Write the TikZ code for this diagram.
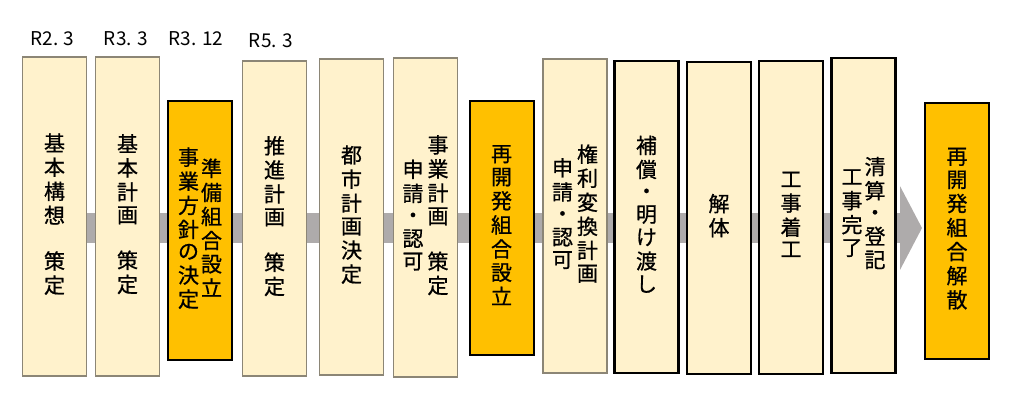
\documentclass[tikz,border=0pt]{standalone}
\usepackage{fontspec}
\newfontfamily\jpfont{Noto Sans CJK JP}[BoldFont={Noto Sans CJK JP},BoldFeatures={FakeBold=0.8}]
\usetikzlibrary{arrows.meta}
\definecolor{cream}{RGB}{255,242,204}
\definecolor{gold}{RGB}{255,192,0}
\definecolor{edgegray}{RGB}{140,134,118}
\definecolor{bandgray}{RGB}{174,171,171}
\newcommand{\tate}[1]{\begin{tabular}[c]{@{}c@{}}#1\end{tabular}}

\begin{document}
\begin{tikzpicture}[x=1pt,y=-1pt,
  lbox/.style={draw=edgegray, line width=1.5pt, fill=cream, minimum width=64pt, inner sep=0pt, font=\jpfont\bfseries\fontsize{21}{21.5}\selectfont},
  kbox/.style={lbox, draw=black, line width=2.2pt},
  obox/.style={lbox, draw=black, line width=2pt, fill=gold},
  datelabel/.style={font=\jpfont\fontsize{19}{20}\selectfont}]
\useasboundingbox (0,0) rectangle (1022,409);

\coordinate (T0) at (40,228);
\coordinate (T1) at (922,228);

%band behind the boxes
\draw [bandgray, line width=30pt, -{Triangle[length=22pt,width=83pt]}] (T0)--(T1); %T0--T1

%boxes
\node [lbox, minimum height=319pt] (A) at (54.5,216.5)  {\tate{基\\本\\構\\想\\ \\策\\定}};
\node [lbox, minimum height=319pt] (B) at (127.5,216.5) {\tate{基\\本\\計\\画\\ \\策\\定}};
\node [obox, minimum height=259pt] (C) at (200,230.5)   {\tate{事\\業\\方\\針\\の\\決\\定}\hspace{2pt}\tate{準\\備\\組\\合\\設\\立}};
\node [lbox, minimum height=315pt] (D) at (274.5,218.5) {\tate{推\\進\\計\\画\\ \\策\\定}};
\node [lbox, minimum height=316pt] (E) at (351.5,217)   {\tate{都\\市\\計\\画\\決\\定}};
\node [lbox, minimum height=319pt] (F) at (425.5,217.5) {\tate{申\\請\\・\\認\\可}\hspace{4pt}\tate{事\\業\\計\\画\\ \\策\\定}};
\node [obox, minimum height=254pt] (G) at (501.5,228)   {\tate{再\\開\\発\\組\\合\\設\\立}};
\node [lbox, minimum height=314pt] (H) at (575,216)     {\tate{申\\請\\・\\認\\可}\hspace{4pt}\tate{権\\利\\変\\換\\計\\画}};
\node [kbox, minimum height=312pt] (I) at (646.5,217)   {\tate{補\\償\\・\\明\\け\\渡\\し}};
\node [kbox, minimum height=312pt] (J) at (719,218)     {\tate{解\\体}};
\node [kbox, minimum height=313pt] (K) at (791,217.5)   {\tate{工\\事\\着\\工}};
\node [kbox, minimum height=315pt] (L) at (863.5,215.5) {\tate{工\\事\\完\\了}\hspace{2pt}\tate{清\\算\\・\\登\\記}};
\node [obox, minimum height=256pt] (M) at (957,231)     {\tate{再\\開\\発\\組\\合\\解\\散}};

%dates
\node [datelabel] (dA) at (52.5,39) {R2. 3};
\node [datelabel] (dB) at (126,39)  {R3. 3};
\node [datelabel] (dC) at (196,39)  {R3. 12};
\node [datelabel] (dD) at (271,41)  {R5. 3};

\end{tikzpicture}
\end{document}
